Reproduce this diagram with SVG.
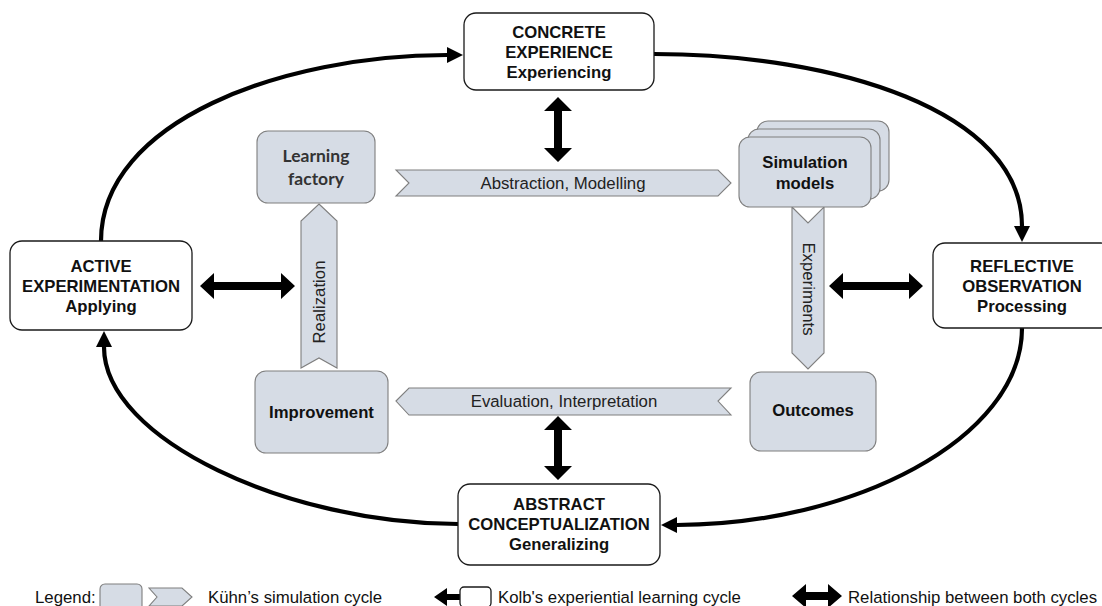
<svg xmlns="http://www.w3.org/2000/svg" width="1102" height="606" viewBox="0 0 1102 606">
<style>
.kolb{fill:#fff;stroke:#1a1a1a;stroke-width:1.3}
.sim{fill:#d6dce5;stroke:#7f7f7f;stroke-width:1.1}
.band{fill:#d6dce5;stroke:#7f7f7f;stroke-width:1.1}
.kt{font-family:"Liberation Sans",Arial,sans-serif;font-weight:bold;font-size:16.7px;fill:#111;text-anchor:middle}
.st{font-family:"Liberation Sans",Arial,sans-serif;font-weight:bold;font-size:16.7px;fill:#111;text-anchor:middle}
.lf{font-family:Lato,"Open Sans",sans-serif;font-weight:bold;font-size:17.5px;fill:#333;text-anchor:middle}
.bt{font-family:"Liberation Sans",Arial,sans-serif;font-size:16.8px;fill:#222;text-anchor:middle}
.lg{font-family:"Liberation Sans",Arial,sans-serif;font-size:16.8px;fill:#111}
.arc{fill:none;stroke:#000;stroke-width:4.2}
.rel{fill:#000}
</style>
<defs>
<marker id="ah" viewBox="0 0 16 16" refX="0" refY="8" markerWidth="16" markerHeight="16" markerUnits="userSpaceOnUse" orient="auto">
<path d="M0,0 L16,8 L0,16 z" fill="#000"/>
</marker>
</defs>

<g id="connectors">
<path class="arc" d="M101,241 C101,121 283,55 447,55" marker-end="url(#ah)"/>
<path class="arc" d="M654,54 C834,54 1022,110 1022,226" marker-end="url(#ah)"/>
<path class="arc" d="M1022,328 C1022,440 850,525 677,525" marker-end="url(#ah)"/>
<path class="arc" d="M458,524 C290,524 104,440 104,347" marker-end="url(#ah)"/>
<polygon class="rel" points="558,97 572,111 562,111 562,148 572,148 558,162 544,148 554,148 554,111 544,111"/>
<polygon class="rel" points="558,416 572,430 562,430 562,466 572,466 558,480 544,466 554,466 554,430 544,430"/>
<polygon class="rel" points="200,286 214,273 214,282 281,282 281,273 295,286 281,299 281,290 214,290 214,299"/>
<polygon class="rel" points="829,286 843,273 843,282 909,282 909,273 923,286 909,299 909,290 843,290 843,299"/>
</g>

<g id="band-abstraction">
<polygon class="band" points="396,170 718,170 731,183 718,196 396,196 409,183"/>
<text class="bt" x="563" y="189">Abstraction, Modelling</text>
</g>
<g id="band-experiments">
<polygon class="band" points="792,207 808,223 824,207 824,353 808,369 792,353"/>
<text class="bt" transform="translate(803,289) rotate(90)">Experiments</text>
</g>
<g id="band-evaluation">
<polygon class="band" points="396,401 409,388 731,388 718,401 731,415 409,415"/>
<text class="bt" x="564" y="407">Evaluation, Interpretation</text>
</g>
<g id="band-realization">
<polygon class="band" points="319,204 337,221 337,368 319,358 301,368 301,221"/>
<text class="bt" transform="translate(325,302) rotate(-90)">Realization</text>
</g>

<g id="concrete-experience">
<rect class="kolb" x="464" y="13" width="190" height="77" rx="12"/>
<text class="kt" x="559" y="38">CONCRETE</text>
<text class="kt" x="559" y="58">EXPERIENCE</text>
<text class="kt" x="559" y="78">Experiencing</text>
</g>
<g id="active-experimentation">
<rect class="kolb" x="10" y="241" width="182" height="89" rx="12"/>
<text class="kt" x="101" y="272">ACTIVE</text>
<text class="kt" x="101" y="292">EXPERIMENTATION</text>
<text class="kt" x="101" y="312">Applying</text>
</g>
<g id="reflective-observation">
<rect class="kolb" x="933" y="243" width="180" height="85" rx="12"/>
<text class="kt" x="1022" y="272">REFLECTIVE</text>
<text class="kt" x="1022" y="292">OBSERVATION</text>
<text class="kt" x="1022" y="312">Processing</text>
</g>
<g id="abstract-conceptualization">
<rect class="kolb" x="458" y="484" width="202" height="81" rx="12"/>
<text class="kt" x="559" y="510">ABSTRACT</text>
<text class="kt" x="559" y="530">CONCEPTUALIZATION</text>
<text class="kt" x="559" y="550">Generalizing</text>
</g>

<g id="learning-factory">
<rect class="sim" x="257" y="131" width="118" height="72" rx="11"/>
<text class="lf" x="316" y="162">Learning</text>
<text class="lf" x="316" y="185">factory</text>
</g>
<g id="simulation-models">
<rect class="sim" x="757" y="121" width="132" height="70" rx="11"/>
<rect class="sim" x="748" y="129" width="132" height="70" rx="11"/>
<rect class="sim" x="739" y="137" width="132" height="70" rx="11"/>
<text class="st" x="805" y="168">Simulation</text>
<text class="st" x="805" y="189">models</text>
</g>
<g id="outcomes">
<rect class="sim" x="750" y="372" width="126" height="79" rx="11"/>
<text class="st" x="813" y="416">Outcomes</text>
</g>
<g id="improvement">
<rect class="sim" x="255" y="371" width="133" height="82" rx="11"/>
<text class="st" x="321.5" y="418">Improvement</text>
</g>

<g id="legend">
<text class="lg" x="35" y="603">Legend:</text>
<rect class="sim" x="100" y="584" width="42" height="30" rx="5"/>
<polygon class="band" points="149,588 182,588 192,597 182,606 149,606 157,597"/>
<text class="lg" x="208" y="603">Kühn’s simulation cycle</text>
<polygon class="rel" points="434,597 447,588 447,594 462,594 462,600 447,600 447,606"/>
<rect class="kolb" x="460" y="587" width="31" height="20" rx="4"/>
<text class="lg" x="498" y="603">Kolb's experiential learning cycle</text>
<polygon class="rel" points="792,596 806,584 806,592 828,592 828,584 842,596 828,608 828,600 806,600 806,608"/>
<text class="lg" x="848" y="603">Relationship between both cycles</text>
</g>
</svg>
